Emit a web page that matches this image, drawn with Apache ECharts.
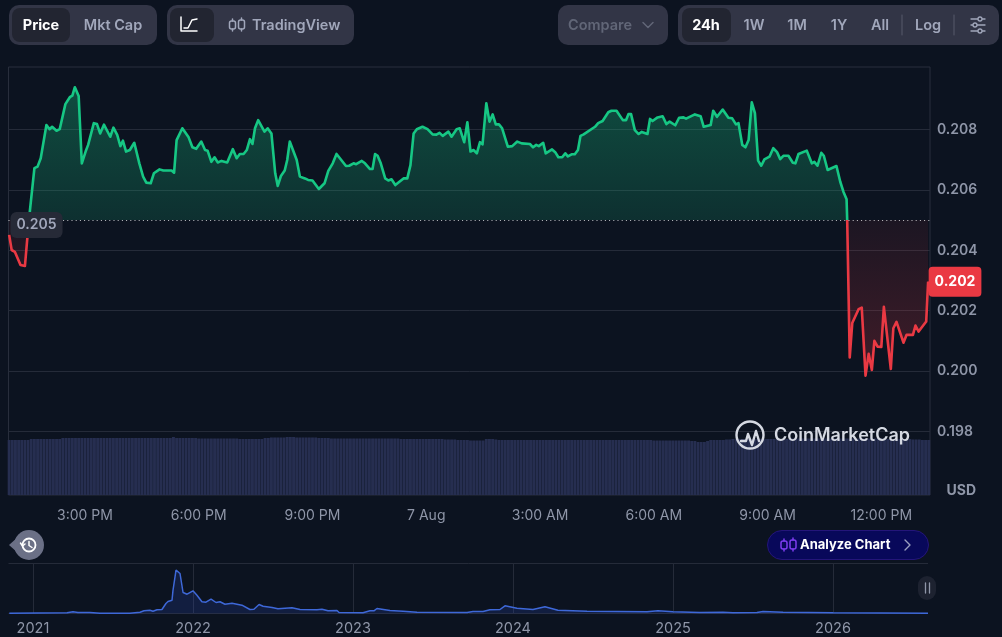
<!DOCTYPE html>
<html><head><meta charset="utf-8">
<style>html,body{margin:0;padding:0;background:#0c1320;overflow:hidden}#c{width:1002px;height:637px}</style>
<script src="https://cdn.jsdelivr.net/npm/echarts@6/dist/echarts.min.js"></script>
</head><body><div id="c"></div>
<script>
// minutes after 1:00 PM, 6 Aug
const priceMinutes=[0,4,9,18,25,29,33,40,45,50,59,64,68,75,80,89,96,100,104,110,115,121,125,134,139,144,150,160,165,171,176,180,185,191,198,200,206,212,217,224,229,238,244,257,261,265,274,284,290,296,304,310,314,320,325,330,336,345,354,360,365,371,376,381,385,389,394,404,409,415,421,425,430,436,440,444,455,460,468,473,480,490,499,505,512,518,533,538,545,549,558,563,571,575,579,583,588,595,600,605,611,614,624,630,635,640,645,654,662,670,676,681,686,695,700,708,713,720,725,730,735,740,745,749,755,760,765,770,775,780,789,796,804,811,824,829,834,838,845,849,859,864,869,875,880,884,890,895,900,904,909,927,932,939,948,953,961,971,976,980,984,990,996,1001,1010,1014,1018,1026,1034,1040,1045,1054,1060,1067,1071,1085,1094,1099,1110,1114,1120,1129,1138,1144,1150,1154,1160,1165,1170,1175,1180,1185,1190,1195,1203,1209,1215,1220,1225,1233,1240,1244,1249,1262,1265,1270,1274,1279,1285,1289,1295,1309,1315,1320,1325,1326,1330,1334,1344,1349,1355,1360,1365,1369,1374,1380,1384,1395,1399,1404,1415,1420,1430,1434,1439,1451,1454];
const priceValues=[.20451,.20401,.20395,.20351,.20348,.20445,.20534,.20672,.20677,.20705,.20815,.20801,.20809,.20796,.20801,.20884,.20907,.20912,.2094,.20911,.20688,.20727,.20749,.20821,.20818,.20787,.20816,.20776,.20806,.20782,.20745,.20763,.20727,.20732,.20756,.20758,.20688,.20644,.20624,.20622,.20655,.20668,.20664,.20664,.20657,.20765,.20804,.20774,.20741,.20736,.2076,.20732,.2073,.20693,.20708,.20691,.20696,.20691,.20735,.20705,.20719,.20719,.20732,.20768,.20752,.20804,.20831,.20793,.20804,.20787,.20655,.20613,.20646,.20664,.20699,.2076,.20699,.20644,.20638,.20633,.20631,.20603,.20622,.20663,.20688,.20719,.20679,.2068,.20688,.20685,.20696,.20688,.20669,.20669,.20719,.20713,.20688,.20638,.20631,.20635,.20616,.20619,.20638,.20638,.20682,.20787,.20801,.20809,.20801,.20784,.20783,.20789,.20779,.20793,.20776,.20801,.20804,.20758,.20824,.20727,.20732,.20721,.20758,.20751,.20887,.20826,.2085,.20817,.20817,.20804,.20743,.20745,.2076,.20754,.20752,.20741,.20749,.20745,.20756,.20721,.20734,.20725,.20708,.20708,.20721,.20711,.20718,.20718,.20732,.20779,.20784,.20809,.20821,.20828,.20857,.20862,.20862,.20831,.20831,.20851,.20851,.20798,.20785,.20792,.20785,.20835,.20828,.2084,.20844,.20818,.20826,.20814,.20839,.2084,.20836,.2085,.20844,.20809,.20815,.20862,.20842,.20866,.20839,.20837,.20817,.20821,.20749,.20741,.20765,.2089,.20854,.20697,.2068,.20701,.2071,.20738,.20725,.20702,.20713,.20713,.2069,.20688,.20719,.2073,.20729,.20688,.20693,.2068,.20723,.20713,.20666,.20679,.20627,.20594,.20569,.205,.20045,.20159,.20205,.2021,.19985,.20057,.20004,.201,.20081,.2008,.20213,.20007,.20142,.20163,.20094,.2012,.2012,.20151,.20131,.20164,.20296];
const baselinePrice=0.205;
const currentPriceLabel='0.202';
const volumeMinutesStep=5;
const volumeValues=[55,55,55,55,55,55,55,56,56,56,56,56,56,56,56,56,56,57,57,57,57,57,57,57,57,57,57,57,57,57,57,57,57,57,57,57,57,57,57,57,57,57,57,57,57,57,57,57,57,57,57,57,58,57,57,57,57,57,57,57,56.5,56.5,56.5,56.5,56.5,56.5,56.5,56.5,56.5,56.5,56.5,56.5,56.5,56,56,56,56,56,56,56,56,57,57,57.5,57.5,57.5,57.5,57.5,58,58,58,57.5,57.5,57.5,57.5,57.5,57.5,57.5,57,57,57,57,56.5,56.5,56.5,56.5,56.5,56.5,56.5,56.5,56.5,56.5,56.5,56.5,56.5,56.5,56.5,56.5,56.5,56.5,56.5,56.5,56.5,56.5,56,56,56,56,56,56,56,56,56,56,56,56,56,56,55.5,55.5,55.5,55.5,55,55,55,55,54.5,54.5,54.5,54.5,54.5,56,56,56,55.5,55,55,55,55,55,55,55,55,55,55,55,55,55,55,55,55,55,55,55,55,55,55,55,55,55,55,55,55,55,55,55,55,55,55,55,55,55,55,55,55,55,55,55,55,55,55,55,55,55,54.5,54.5,54.5,54.5,54.5,54.5,54.5,54.5,54.5,54.5,54.5,54.5,54,54,53,53,53,54,55,55,55,55,55,55.5,55.5,56,56,56,56,56,56,56,56,56,56,56,56,56,56,56,56,56,56,56,56.5,56.5,56.5,56.5,56.5,56.5,56.5,56.5,56.5,56.5,56.5,56.5,56.5,56.5,56.5,56.5,56.5,56.5,56.5,56.5,56.5,56.5,56.5,56.5,56.5,56.5,56.5,56.5,56.5,56.5,56,56,56,56,56,56,56,56,55.5,55.5,55.5,55,55,55];
const timeTickMinutes=[120,300,480,660,840,1020,1200,1380];
const timeTickLabels=['3:00 PM','6:00 PM','9:00 PM','7 Aug','3:00 AM','6:00 AM','9:00 AM','12:00 PM'];
const historyYears=[2020.852,2021.213,2021.25,2021.281,2021.356,2021.419,2021.606,2021.669,2021.694,2021.731,2021.75,2021.775,2021.806,2021.831,2021.844,2021.869,2021.875,2021.894,2021.906,2021.919,2021.938,2021.963,2022,2022.025,2022.056,2022.081,2022.113,2022.144,2022.169,2022.2,2022.244,2022.306,2022.356,2022.381,2022.413,2022.438,2022.494,2022.531,2022.619,2022.669,2022.775,2022.806,2022.844,2022.9,2022.913,2023.063,2023.106,2023.131,2023.15,2023.231,2023.313,2023.4,2023.713,2023.75,2023.813,2023.856,2023.919,2023.95,2024.025,2024.125,2024.2,2024.281,2024.463,2024.838,2024.906,2025,2025.169,2025.313,2025.375,2025.525,2025.563,2025.688,2026,2026.594];
const historyValues=[.3,.7,1.7,1,1,.3,.3,1.3,2.7,3.3,2.3,3.7,4,10,12,13.3,23,43.3,45,40,21,19.3,22.7,18.3,11.7,11.3,14.3,11,11.7,9.3,10.3,8.3,4,4.3,9,7.3,6,4.7,5.7,4,3.7,4.3,2.7,3,1,.7,2.7,2.7,5,3,2.3,1.3,1,2,2,3.7,4,7.7,5.3,4,6.7,3.3,2.3,1.7,2.7,1.7,1,1.3,.7,1,2,1.3,.7,.3];
const yearTicks=[2021,2022,2023,2024,2025,2026];

const FONT='Inter, "Noto Sans", sans-serif';
const GREEN='#16c784',RED='#ea3943',GREY='#a1a7bb',AXIS='#8f96a8',LINE='#252b39';
const pMax=Math.max(...priceValues),pMin=Math.min(...priceValues);
const basePos=(pMax-baselinePrice)/(pMax-pMin);
const chart=echarts.init(document.getElementById('c'),null,{width:1002,height:637});

function rect(x,y,w,h,r,fill,extra){return Object.assign({type:'rect',silent:true,shape:{x,y,width:w,height:h,r},style:{fill}},extra||{});}
function text(x,y,t,size,weight,fill,align){return {type:'text',silent:true,style:{x,y,text:t,font:`${weight} ${size}px ${FONT}`,fill,textAlign:align||'center',textVerticalAlign:'middle'}};}
function poly(pts,stroke,w){return {type:'polyline',silent:true,shape:{points:pts},style:{stroke,fill:'none',lineWidth:w||1.5,lineCap:'round',lineJoin:'round'}};}
function circ(cx,cy,r,stroke,w,fill){return {type:'circle',silent:true,shape:{cx,cy,r},style:{stroke,fill:fill||'none',lineWidth:w||1.5}};}
function candle(x,c,dy){const d=dy||0;return [poly([[x+3,19+d],[x+3,21+d]],c),poly([[x+3,29+d],[x+3,31+d]],c),rect(x,21+d,6,8,2,'none',{style:{stroke:c,lineWidth:1.5,fill:'none'}}),
  poly([[x+12,18+d],[x+12,20+d]],c),poly([[x+12,29+d],[x+12,31+d]],c),rect(x+9,20+d,6,9,2,'none',{style:{stroke:c,lineWidth:1.5,fill:'none'}})];}
const PANEL='#323546',ACTIVE='#222531';
const gfx=[
 rect(9,5,148,40,10,PANEL),rect(12,8,58,34,8,ACTIVE),text(41,26,'Price',14.5,700,'#fff'),text(113,26,'Mkt Cap',14.5,600,GREY),
 rect(167,5,187,40,10,PANEL),rect(170,8,44,34,8,ACTIVE),
 poly([[181,17],[181,31],[197,31]],'#fff',1.5),poly([[184,28],[188,28],[192,20],[197,19]],'#fff',1.5),
 ...candle(229.5,GREY),text(252,26,'TradingView',14.5,600,GREY,'left'),
 rect(558,5,110,40,10,PANEL),text(568,26,'Compare',14.5,600,'#616677','left'),poly([[643,22.5],[648,27.5],[653,22.5]],'#616677',1.5),
 rect(678,5,321,40,10,PANEL),rect(682,8,49,34,8,ACTIVE),text(706,26,'24h',14.5,700,'#fff'),
 text(754,26,'1W',14.5,600,GREY),text(797,26,'1M',14.5,600,GREY),text(839,26,'1Y',14.5,600,GREY),text(880,26,'All',14.5,600,GREY),
 poly([[902,15],[902,35]],'#565a6b',1),text(928,26,'Log',14.5,600,GREY),poly([[954,15],[954,35]],'#565a6b',1),
 poly([[971,19],[985,19]],GREY,1.3),poly([[971,25],[985,25]],GREY,1.3),poly([[971,31],[985,31]],GREY,1.3),
 circ(980,19,2,GREY,1.3,PANEL),circ(975,25,2,GREY,1.3,PANEL),circ(980,31,2,GREY,1.3,PANEL),
 text(976,491,'USD',14,700,AXIS,'right'),
 {type:'polygon',silent:true,shape:{points:[[9,545],[18,537],[18,553]]},style:{fill:'#6b7086'}},
 circ(29,545,15,'none',0,'#6b7086'),
 circ(29,545,6.5,'#fff',1.8),poly([[29,541.5],[29,545.5],[32,547.5]],'#fff',1.5),poly([[20.5,543],[22.5,546],[25,544]],'#fff',1.5),
 rect(767.5,530.5,161,29,14.5,'#08085a',{style:{fill:'#08085a',stroke:'#24157a',lineWidth:1}}),
 ...candle(781,'#7d3cf0',520),
 text(800,545,'Analyze Chart',13,700,'#fff','left'),poly([[905,540],[910,545],[905,550]],'#9a9fc0',1.4),
 circ(750,435,13.5,'#d5d9e2',2.4),poly([[741,441],[746,441],[748,434],[752,445],[756,431],[759,441]],'#d5d9e2',2.4),
 text(774,436,'CoinMarketCap',18,600,'#d5d9e2','left'),
 rect(918,576,18,24,9,'#1d2230'),poly([[925.5,583],[925.5,593]],'#8f96a8',1.3),poly([[929.5,583],[929.5,593]],'#8f96a8',1.3)
].map(e=>Object.assign(e,{z:100}));

chart.setOption({
 animation:false,backgroundColor:'#0c1320',
 textStyle:{fontFamily:FONT},
 grid:[
  {left:8.5,width:921.5,top:69.1,height:422.8},
  {left:8.5,width:921.5,top:67,height:428,show:true,borderColor:'#282e3c',borderWidth:1,backgroundColor:'transparent'},
  {left:8.5,width:919.5,top:563.5,height:50}
 ],
 xAxis:[
  {gridIndex:0,type:'value',min:-1,max:1457,show:false},
  {gridIndex:1,type:'value',min:-1,max:1457,axisLine:{show:false},axisTick:{show:false,customValues:timeTickMinutes},splitLine:{show:false},
   axisLabel:{customValues:timeTickMinutes,margin:14,color:AXIS,fontSize:14,fontFamily:FONT,formatter:v=>timeTickLabels[timeTickMinutes.indexOf(v)]}},
  {gridIndex:2,type:'value',min:2020.847,max:2026.594,axisLine:{show:false},axisTick:{show:false,customValues:yearTicks},
   splitLine:{show:true,lineStyle:{color:LINE,width:1}},
   axisLabel:{customValues:yearTicks,margin:8,color:AXIS,fontSize:14.5,fontFamily:FONT,formatter:v=>String(v)}}
 ],
 yAxis:[
  {gridIndex:0,type:'value',position:'right',min:0.196,max:0.21,interval:0.002,axisLine:{show:false},axisTick:{show:false},
   splitLine:{show:true,showMinLine:false,showMaxLine:false,lineStyle:{color:LINE,width:1}},
   axisLabel:{margin:7,color:AXIS,fontSize:14,fontWeight:600,fontFamily:FONT,showMinLabel:false,showMaxLabel:false,formatter:v=>v.toFixed(3)}},
  {gridIndex:1,type:'value',min:0,max:428,show:false},
  {gridIndex:2,type:'value',min:0,max:50,interval:50,axisLine:{show:false},axisTick:{show:false},axisLabel:{show:false},splitLine:{show:true,lineStyle:{color:LINE,width:1}}}
 ],
 visualMap:[{show:false,seriesIndex:1,dimension:1,pieces:[{min:0.19,max:baselinePrice,color:RED},{min:baselinePrice,max:0.22,color:GREEN}]}],
 series:[
  {type:'bar',name:'Volume',xAxisIndex:1,yAxisIndex:1,barWidth:2.9,z:1,itemStyle:{color:'#262e50'},
   data:volumeValues.map((v,i)=>[i*volumeMinutesStep,v])},
  {type:'line',name:'Price',xAxisIndex:0,yAxisIndex:0,z:3,showSymbol:false,symbol:'none',smooth:false,
   data:priceMinutes.map((m,i)=>[m,priceValues[i]]),
   lineStyle:{width:2.6,join:'round'},
   areaStyle:{origin:baselinePrice,opacity:1,color:new echarts.graphic.LinearGradient(0,0,0,1,[
    {offset:0,color:'rgba(22,199,132,0.32)'},{offset:basePos,color:'rgba(22,199,132,0.16)'},
    {offset:basePos,color:'rgba(234,57,67,0.07)'},{offset:1,color:'rgba(234,57,67,0.24)'}])},
   markLine:{silent:true,symbol:'none',precision:3,
    lineStyle:{type:[1,3.2],color:'rgba(255,255,255,0.75)',width:1},
    label:{show:true,position:'insideStart',distance:3,offset:[-1,5],formatter:()=>baselinePrice.toFixed(3),color:GREY,fontSize:14,fontWeight:600,fontFamily:FONT,
      backgroundColor:'#262a37',borderRadius:6,padding:[6,6]},
    data:[{yAxis:baselinePrice}]},
   markPoint:{silent:true,symbol:'rect',symbolSize:1,
    itemStyle:{color:RED},
    label:{show:true,position:'right',distance:0,formatter:()=>currentPriceLabel,color:'#fff',fontSize:14,fontWeight:700,fontFamily:FONT,backgroundColor:RED,borderRadius:4,padding:[8,6]},
    data:[{coord:[priceMinutes[priceMinutes.length-1],priceValues[priceValues.length-1]]}]}},
  {type:'line',name:'History',xAxisIndex:2,yAxisIndex:2,z:3,symbol:'none',smooth:false,
   data:historyYears.map((y,i)=>[y,historyValues[i]]),
   lineStyle:{color:'#3e68d8',width:1.5},areaStyle:{color:'#3861fb',opacity:0.15}}
 ],
 graphic:{elements:gfx}
});
</script></body></html>
